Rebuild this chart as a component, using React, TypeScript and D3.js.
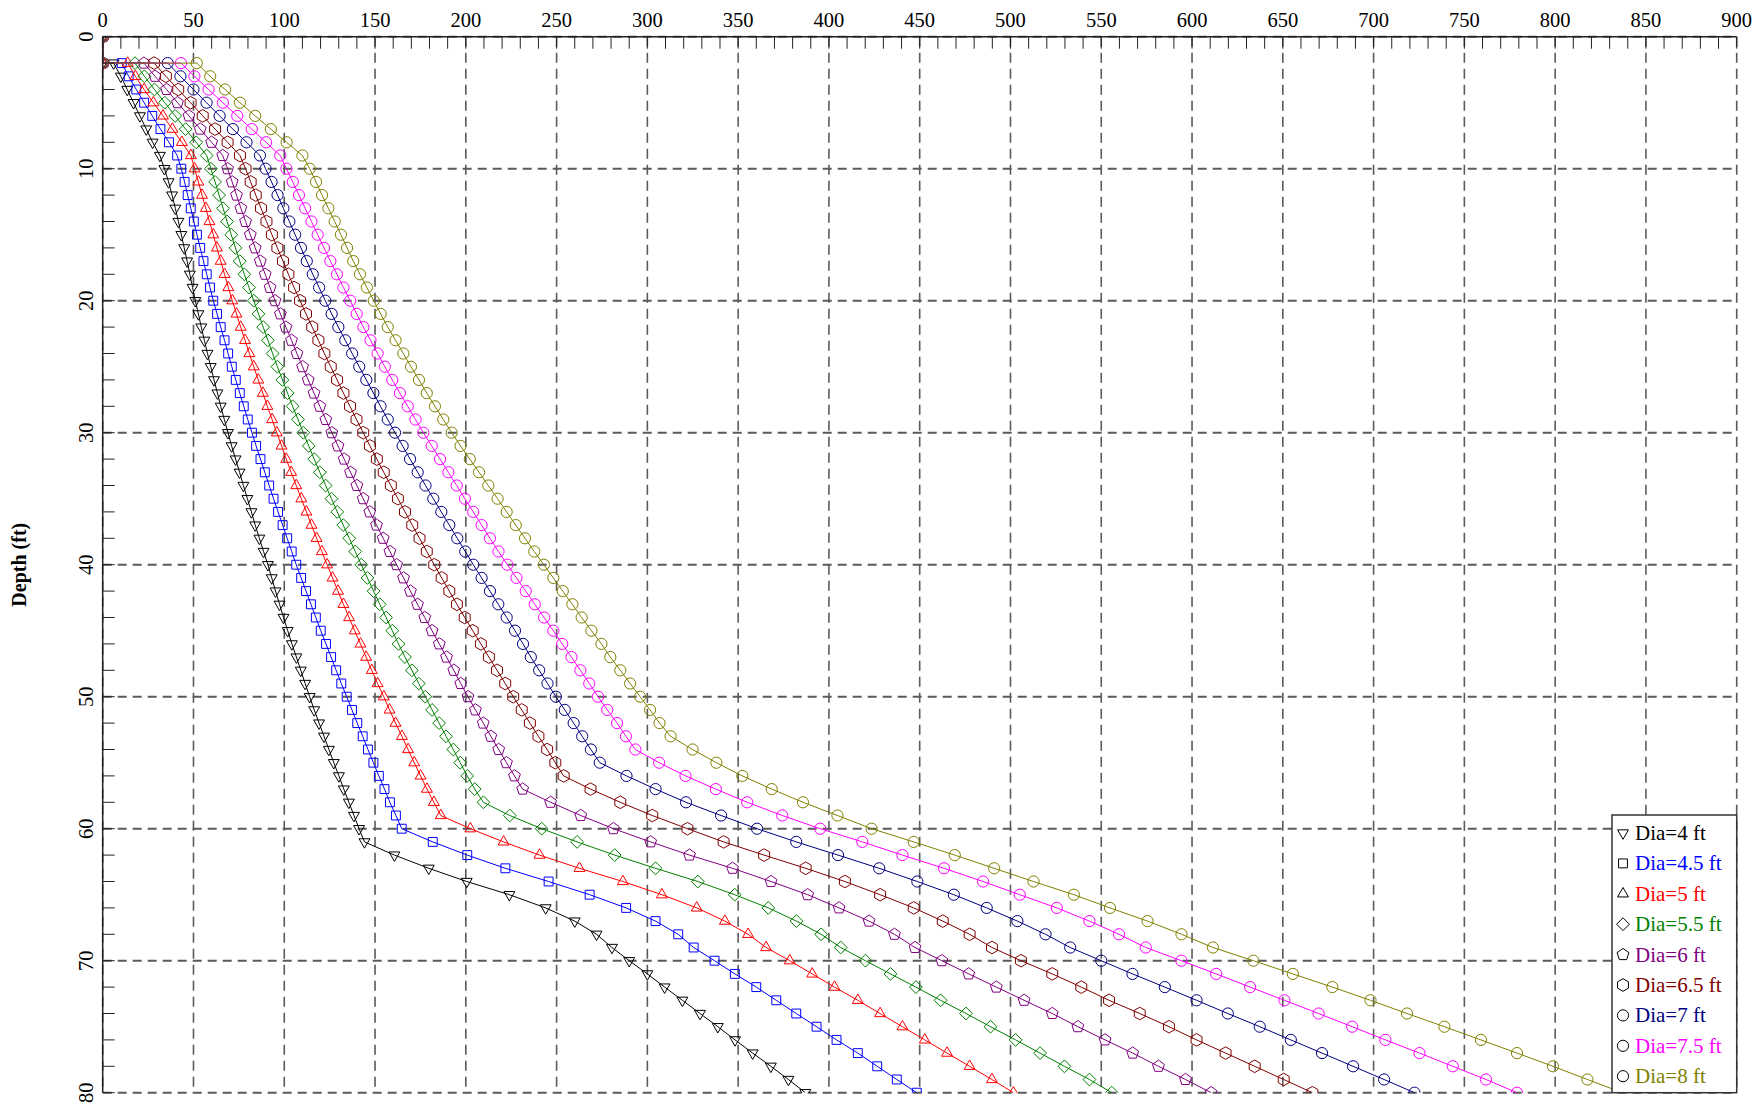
import React from "react";
import * as d3 from "d3";

// ---- data ----
const depths = [
  2, 3, 4, 5, 6, 7, 8, 9, 10, 11, 12, 13, 14, 15, 16, 17, 18, 19, 20, 21,
  22, 23, 24, 25, 26, 27, 28, 29, 30, 31, 32, 33, 34, 35, 36, 37, 38, 39, 40, 41,
  42, 43, 44, 45, 46, 47, 48, 49, 50, 51, 52, 53, 54, 55, 56, 57, 58, 59, 60, 61,
  62, 63, 64, 65, 66, 67, 68, 69, 70, 71, 72, 73, 74, 75, 76, 77, 78, 79, 80,
];
const surfaceDepths = [0, 2];
const surfaceValues = [0, 0];

const dia4 = [
  6, 10, 13.5, 17, 20.5, 24, 27.5, 31.5, 34, 36.3, 38.2, 40, 41.7, 43.3, 44.9, 46.5, 48, 49.5, 51, 52.7,
  54.3, 56, 57.7, 59.5, 61.3, 63.2, 65, 67, 69, 71, 73.2, 75.4, 77.5, 79.7, 81.9, 84, 86.3, 88.6, 91, 93.1,
  95.2, 97.4, 99.6, 101.9, 104.2, 106.7, 109.1, 111.5, 114, 116.5, 119.2, 121.9, 124.6, 127.3, 130.1, 132.8, 135.6, 138.4, 141.2, 144.2,
  160.7, 179.6, 200.5, 224, 244, 260, 272, 280.5, 290, 300, 309.5, 319.3, 329, 338.8, 348.3, 358, 368, 377.7, 387,
];
const dia45 = [
  10.5, 14.3, 18.5, 22.8, 27.3, 31.8, 36.5, 41, 43.3, 45.1, 46.8, 48.5, 50.2, 51.9, 53.7, 55.5, 57.3, 59.1, 60.9, 63,
  65, 67.1, 69.1, 71.1, 73.3, 75.5, 77.7, 79.9, 82.2, 84.5, 86.9, 89.3, 91.7, 94.1, 96.6, 99.1, 101.6, 104.1, 106.6, 109.3,
  112, 114.7, 117.4, 120.1, 123, 125.8, 128.6, 131.4, 134.4, 137.3, 140.2, 143.2, 146.1, 149.1, 152.1, 155.2, 158.2, 161.5, 164.7, 181.8,
  200.8, 221.8, 245.6, 268.2, 288.3, 304.5, 317, 325.5, 337, 348.2, 360, 371, 382, 393.2, 404.2, 415.9, 426.6, 437.4, 448.4,
];
const dia5 = [
  13.8, 18, 22.8, 27.9, 33.2, 38.4, 43.6, 48.6, 50.6, 52.7, 54.7, 56.8, 58.8, 60.9, 62.9, 65, 67.1, 69.2, 71.4, 73.7,
  76, 78.4, 80.8, 83.2, 85.7, 88.2, 90.7, 93.3, 95.9, 98.5, 101.1, 103.8, 106.6, 109.4, 112.2, 115, 117.8, 120.7, 123.6, 126.6,
  129.6, 132.6, 135.7, 138.8, 142, 145.1, 148.2, 151.4, 154.8, 158, 161.3, 164.8, 168.2, 171.6, 175.1, 178.6, 182.4, 186.2, 202.5, 220.8,
  240.6, 262.6, 286.5, 308, 327.2, 342.7, 355.5, 365.4, 378.4, 390.8, 403.1, 415.9, 428.2, 440.5, 452.8, 465.1, 477.5, 489.8, 501.6,
];
const dia55 = [
  17.8, 23, 28.5, 34.2, 39.9, 45.7, 51.5, 57.3, 59.6, 61.9, 64.1, 66.3, 68.5, 70.8, 73.1, 75.5, 78, 80.6, 83.2, 85.8,
  88.4, 91, 93.6, 96.2, 99, 101.8, 104.6, 107.6, 110.5, 113.5, 116.5, 119.6, 122.8, 126, 129.2, 132.5, 135.8, 139.1, 142.4, 145.8,
  149.2, 152.6, 156.1, 159.5, 162.9, 166.5, 170.3, 174.1, 177.7, 181.4, 185.3, 189.1, 193.1, 196.9, 200.8, 204.9, 209.7, 224.2, 241.8, 261.3,
  282, 304.5, 327.8, 348.1, 366.6, 382.1, 395.7, 406.5, 420.1, 433.9, 447.9, 461.5, 475.5, 489, 502.8, 516.3, 529.7, 543.5, 555.8,
];
const dia6 = [
  22.7, 28.8, 35.2, 41.2, 47.5, 53.7, 60, 66.1, 68.8, 71.3, 73.7, 76.1, 78.7, 81.3, 84, 86.8, 89.5, 92.2, 94.9, 97.9,
  100.9, 104, 107, 110.1, 113.2, 116.4, 119.6, 122.9, 126.2, 129.6, 133, 136.5, 140, 143.5, 147.1, 150.8, 154.5, 158.2, 161.9, 165.7,
  169.5, 173.4, 177.4, 181.4, 185.4, 189.4, 193.4, 197.2, 201.2, 205.3, 209.6, 213.8, 218.1, 222.4, 226.8, 231.3, 246.7, 263.3, 281.3, 301.8,
  323.2, 346.9, 368.1, 388.3, 405.6, 422.1, 436.1, 447.4, 462.2, 477, 492.2, 507.5, 523, 537.1, 552.1, 567.3, 581.5, 596.4, 610.5,
];
const dia65 = [
  28.3, 34.8, 41.6, 48.4, 55.1, 61.9, 68.8, 75.6, 78.7, 81.5, 84.3, 87.2, 90.2, 93.2, 96.2, 99.3, 102.3, 105.4, 108.7, 112,
  115.4, 118.8, 122.1, 125.6, 129.1, 132.6, 136.2, 139.8, 143.5, 147.2, 151, 154.8, 158.7, 162.6, 166.5, 170.5, 174.5, 178.5, 182.6, 186.7,
  190.9, 195.1, 199.4, 203.8, 208.3, 212.7, 217.2, 221.7, 226.1, 230.8, 235.3, 240, 244.8, 249.3, 253.9, 268.7, 285.1, 302.7, 322.1, 342,
  364.3, 387.2, 408.8, 428.2, 446.7, 462.7, 477.5, 489.8, 505.8, 523, 539, 554.3, 571.2, 587.3, 602.5, 618.5, 634.5, 650.5, 666.3,
];
const dia7 = [
  35.8, 42.8, 50, 57.2, 64.4, 71.7, 79.2, 86.6, 89.7, 93, 96.3, 99.5, 102.8, 106, 109.2, 112.4, 115.7, 119.2, 122.6, 126.1,
  129.8, 133.6, 137.4, 141.3, 145.2, 149.1, 153, 157, 161, 165.2, 169.3, 173.5, 177.8, 182.1, 186.5, 190.9, 195.3, 199.7, 204.1, 208.7,
  213.3, 217.9, 222.5, 227.1, 231.5, 235.8, 240.4, 245, 249.6, 254.5, 259.4, 264.1, 268.9, 273.8, 288.5, 304.5, 321.3, 340.6, 360.4, 382,
  405, 427.7, 448.7, 468.8, 486.9, 503.8, 519.3, 532.9, 550, 567.2, 585, 602.5, 619.7, 637.3, 654.4, 671.6, 688.7, 705.8, 722.5,
];
const dia75 = [
  43.1, 50.5, 58.3, 66.2, 74.1, 82.1, 90, 97.8, 101.2, 104.7, 108.1, 111.5, 115, 118.4, 121.9, 125.4, 129, 132.6, 136.3, 139.9,
  143.6, 147.5, 151.4, 155.4, 159.5, 163.7, 168, 172.3, 176.6, 181.2, 185.8, 190.4, 195, 199.5, 204.1, 208.7, 213.3, 218, 222.9, 227.9,
  233, 238, 243.1, 248.2, 253.1, 258.2, 263.1, 268, 272.8, 277.9, 283.3, 288.2, 293.4, 306.5, 321, 337.7, 355, 374.3, 395.2, 418.4,
  440.5, 463.4, 484.9, 505.1, 525.5, 543.5, 559.8, 574.5, 594.1, 613.3, 632, 650.9, 669.7, 688.2, 706.5, 725.3, 743.6, 761.9, 779,
];
const dia8 = [
  51.8, 59.2, 67.4, 75.6, 84, 92.6, 101.3, 110, 114, 117.5, 120.8, 124.3, 127.8, 131.2, 134.6, 138, 141.7, 145.5, 149.3, 153.1,
  157, 161.3, 165.6, 169.8, 174.2, 178.5, 183, 187.6, 192.2, 197.1, 202.2, 207.3, 212.4, 217.5, 222.5, 227.5, 232.6, 237.7, 243, 248.2,
  253.4, 258.7, 263.8, 269.2, 274.7, 279.6, 285.1, 290.5, 296, 301.5, 306.7, 312.8, 324.9, 338, 352.3, 368.5, 385.7, 404.7, 423.5, 446.7,
  469.3, 491, 512.7, 534.9, 554.8, 575.5, 594.2, 611.5, 633.8, 655.5, 677.3, 698.3, 718.4, 739, 759.1, 779, 798.8, 817.8, 837,
];

const seriesValues = [dia4, dia45, dia5, dia55, dia6, dia65, dia7, dia75, dia8];
const seriesLabels = ["Dia=4 ft", "Dia=4.5 ft", "Dia=5 ft", "Dia=5.5 ft", "Dia=6 ft", "Dia=6.5 ft", "Dia=7 ft", "Dia=7.5 ft", "Dia=8 ft"];
const seriesColors = ["#000000", "#0000ff", "#ff0000", "#008000", "#800080", "#800000", "#000080", "#ff00ff", "#808000"];
const seriesSymbols = ["triDown", "square", "triUp", "diamond", "pentagon", "hexagon", "circle", "circle", "circle"];

const xMajorTicks = [0, 50, 100, 150, 200, 250, 300, 350, 400, 450, 500, 550, 600, 650, 700, 750, 800, 850, 900];
const yMajorTicks = [0, 10, 20, 30, 40, 50, 60, 70, 80];
const yAxisTitle = "Depth (ft)";

// ---- layout ----
const W = 1754;
const H = 1105;
const PL = 102.7;
const PR = 1736.7;
const PT = 36.7;
const PB = 1092.7;
const FONT = "'Liberation Serif', 'Times New Roman', Times, serif";

function polyPath(n: number, r: number, startDeg: number): string {
  const pts: string[] = [];
  for (let i = 0; i < n; i++) {
    const a = ((startDeg + (i * 360) / n) * Math.PI) / 180;
    pts.push(`${(r * Math.cos(a)).toFixed(2)},${(r * Math.sin(a)).toFixed(2)}`);
  }
  return "M" + pts.join("L") + "Z";
}

function Marker({ kind, cx, cy, color }: { kind: string; cx: number; cy: number; color: string }) {
  const common = { fill: "none", stroke: color, strokeWidth: 1 };
  if (kind === "circle") return <circle cx={cx} cy={cy} r={5.6} {...common} />;
  let d = "";
  if (kind === "triDown") d = polyPath(3, 6.3, 90);
  else if (kind === "triUp") d = polyPath(3, 6.3, -90);
  else if (kind === "square") d = polyPath(4, 6.3, 45);
  else if (kind === "diamond") d = polyPath(4, 6.4, -90);
  else if (kind === "pentagon") d = polyPath(5, 6.2, -90);
  else if (kind === "hexagon") d = polyPath(6, 6.3, -90);
  return <path d={d} transform={`translate(${cx},${cy})`} {...common} />;
}

export default function App() {
  const x = d3.scaleLinear().domain([0, 900]).range([PL, PR]);
  const y = d3.scaleLinear().domain([0, 80]).range([PT, PB]);
  const line = d3
    .line<[number, number]>()
    .x((d) => x(d[0]))
    .y((d) => y(d[1]));

  const xMinor = x.ticks(90);
  const yMinor = y.ticks(40);

  const series = seriesValues.map((vals) => {
    const pts: [number, number][] = [];
    surfaceDepths.forEach((dp, i) => pts.push([surfaceValues[i], dp]));
    depths.forEach((dp, i) => pts.push([vals[i], dp]));
    return pts;
  });

  const legendX = 1612;
  const legendY = 815;
  const legendW = PR - legendX;
  const legendH = PB - legendY;

  return (
    <svg
      width={W}
      height={H}
      style={{ position: "absolute", left: 0, top: 0, background: "#fff" }}
      fontFamily={FONT}
    >
      <defs>
        <clipPath id="plotClip">
          <rect x={PL} y={PT} width={PR - PL} height={PB - PT} />
        </clipPath>
      </defs>
      <rect x={0} y={0} width={W} height={H} fill="#fff" />

      {/* grid */}
      <g stroke="#5a5a5a" fill="none">
        {xMajorTicks.map((t) => (
          <line key={"gx" + t} x1={x(t)} x2={x(t)} y1={PT} y2={PB} strokeWidth={1.6} strokeDasharray="10,6" />
        ))}
        {yMajorTicks.map((t) => (
          <line key={"gy" + t} x1={PL} x2={PR} y1={y(t)} y2={y(t)} strokeWidth={2} strokeDasharray="9,6" />
        ))}
      </g>

      {/* series */}
      <g clipPath="url(#plotClip)">
        {series.map((pts, si) => (
          <g key={"s" + si}>
            <path d={line(pts) || ""} fill="none" stroke={seriesColors[si]} strokeWidth={1} />
            {pts.map((p, pi) => (
              <Marker key={pi} kind={seriesSymbols[si]} cx={x(p[0])} cy={y(p[1])} color={seriesColors[si]} />
            ))}
          </g>
        ))}
      </g>

      {/* axes */}
      <g stroke="#222" fill="none">
        <line x1={PL} x2={PR} y1={PT} y2={PT} strokeWidth={1.5} />
        <line x1={PL} x2={PL} y1={PT} y2={PB} strokeWidth={1.5} />
        {xMinor.map((t) => (
          <line key={"tx" + t} x1={x(t)} x2={x(t)} y1={PT} y2={PT + 12} strokeWidth={1} />
        ))}
        {yMinor.map((t) => (
          <line key={"ty" + t} x1={PL} x2={PL + 12} y1={y(t)} y2={y(t)} strokeWidth={1} />
        ))}
      </g>
      <g fontSize={20.5} fill="#000">
        {xMajorTicks.map((t) => (
          <text key={"lx" + t} x={x(t)} y={PT - 10} textAnchor="middle">
            {t}
          </text>
        ))}
        {yMajorTicks.map((t) => (
          <text key={"ly" + t} transform={`translate(${PL - 9.5},${y(t)}) rotate(-90)`} textAnchor="middle">
            {t}
          </text>
        ))}
      </g>
      <text
        transform={`translate(26,${(PT + PB) / 2}) rotate(-90)`}
        textAnchor="middle"
        fontSize={20}
        fontWeight="bold"
        fill="#000"
      >
        {yAxisTitle}
      </text>

      {/* legend */}
      <g>
        <rect x={legendX} y={legendY} width={legendW} height={legendH} fill="#fff" stroke="#333" strokeWidth={1.5} />
        {seriesLabels.map((lab, i) => {
          const cy = legendY + 18 + i * 30.4;
          return (
            <g key={"lg" + i}>
              <Marker kind={seriesSymbols[i]} cx={legendX + 11} cy={cy} color="#000" />
              <text x={legendX + 23} y={cy + 7} fontSize={21} fill={seriesColors[i]}>
                {lab}
              </text>
            </g>
          );
        })}
      </g>
    </svg>
  );
}
